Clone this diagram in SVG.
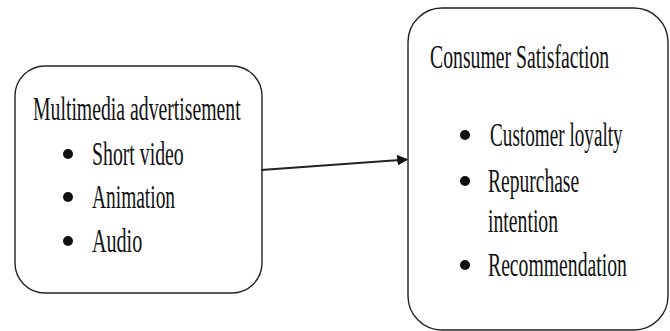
<svg xmlns="http://www.w3.org/2000/svg" width="670" height="331" viewBox="0 0 670 331">
<defs>
<style>
.box{fill:#fff;stroke:#222;stroke-width:1.4}
.t{font-family:"Liberation Serif","Times New Roman",serif;font-size:33px;fill:#111}
.b{fill:#111}
.conn{stroke:#222;stroke-width:1.8;fill:none}
</style>
<marker id="ah" viewBox="0 0 10 10" refX="9" refY="5" markerWidth="6" markerHeight="6" markerUnits="strokeWidth" orient="auto">
<path d="M0,0 L10,5 L0,10 z" fill="#111"/>
</marker>
</defs>
<rect width="670" height="331" fill="#fff"/>
<g id="node-multimedia">
<rect class="box" x="15" y="66" width="247" height="227" rx="30" ry="30"/>
<text class="t" transform="translate(33,120) scale(0.62,1)" textLength="335" lengthAdjust="spacingAndGlyphs">Multimedia advertisement</text>
<circle class="b" cx="68" cy="154" r="5"/>
<text class="t" transform="translate(92,165) scale(0.62,1)" textLength="148" lengthAdjust="spacingAndGlyphs">Short video</text>
<circle class="b" cx="68" cy="197" r="5"/>
<text class="t" transform="translate(92,208) scale(0.62,1)" textLength="134" lengthAdjust="spacingAndGlyphs">Animation</text>
<circle class="b" cx="68" cy="241" r="5"/>
<text class="t" transform="translate(92,252) scale(0.62,1)" textLength="81" lengthAdjust="spacingAndGlyphs">Audio</text>
</g>
<g id="node-satisfaction">
<rect class="box" x="408" y="8" width="260" height="322" rx="34" ry="34"/>
<text class="t" transform="translate(430,68) scale(0.62,1)" textLength="289" lengthAdjust="spacingAndGlyphs">Consumer Satisfaction</text>
<circle class="b" cx="465" cy="135" r="5"/>
<text class="t" transform="translate(490,146) scale(0.62,1)" textLength="214" lengthAdjust="spacingAndGlyphs">Customer loyalty</text>
<circle class="b" cx="465" cy="181" r="5"/>
<text class="t" transform="translate(488,192) scale(0.62,1)" textLength="147" lengthAdjust="spacingAndGlyphs">Repurchase</text>
<text class="t" transform="translate(488,232) scale(0.62,1)" textLength="113" lengthAdjust="spacingAndGlyphs">intention</text>
<circle class="b" cx="465" cy="265" r="5"/>
<text class="t" transform="translate(488,276) scale(0.62,1)" textLength="224" lengthAdjust="spacingAndGlyphs">Recommendation</text>
</g>
<g id="connectors">
<line class="conn" x1="261" y1="170" x2="407" y2="159.5" marker-end="url(#ah)"/>
</g>
</svg>
